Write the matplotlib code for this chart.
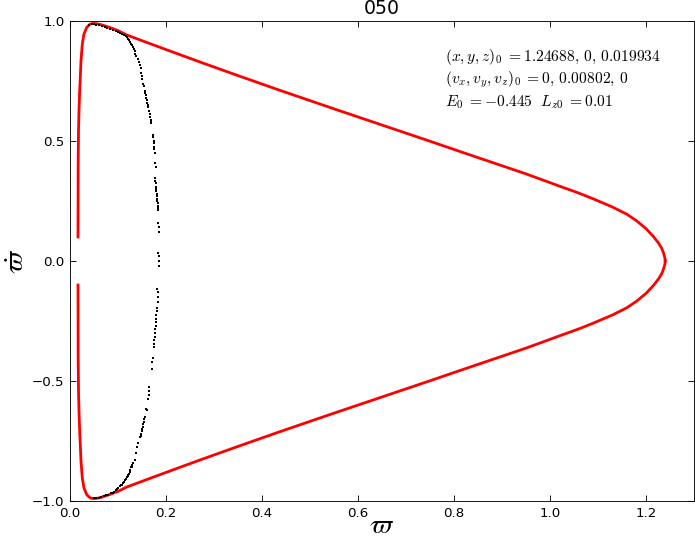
import matplotlib.pyplot as plt

# zero-velocity curve, upper and lower branch
zvc_x = [0.0167, 0.0170, 0.0178, 0.0188, 0.0200, 0.0230, 0.0257, 0.029, 0.035,
         0.042, 0.048, 0.055, 0.0625, 0.08, 0.10, 0.118, 0.15, 0.20, 0.271,
         0.35, 0.4375, 0.55, 0.65, 0.75, 0.854, 0.95, 1.021, 1.06, 1.09,
         1.13, 1.16, 1.18, 1.20, 1.215, 1.226, 1.233, 1.237, 1.2395, 1.240]
zvc_up = [0.10, 0.40, 0.55, 0.63, 0.70, 0.8375, 0.905, 0.945, 0.974,
          0.987, 0.990, 0.989, 0.986, 0.975, 0.960, 0.942, 0.918, 0.881, 0.829,
          0.7725, 0.711, 0.634, 0.5665, 0.499, 0.428, 0.363, 0.311, 0.283, 0.259,
          0.225, 0.195, 0.168, 0.135, 0.103, 0.075, 0.052, 0.030, 0.012, 0.0]
zvc_low = [-0.10, -0.40, -0.55, -0.63, -0.70, -0.8375, -0.905, -0.945, -0.974,
           -0.987, -0.990, -0.989, -0.986, -0.975, -0.960, -0.942, -0.918, -0.881, -0.829,
           -0.7725, -0.711, -0.634, -0.5665, -0.499, -0.428, -0.363, -0.311, -0.283, -0.259,
           -0.225, -0.195, -0.168, -0.135, -0.103, -0.075, -0.052, -0.030, -0.012, -0.0]

# surface of section points (varpi, varpi_dot)
sos_x = [0.040, 0.045, 0.050, 0.055, 0.060, 0.066, 0.072, 0.078, 0.084, 0.090,
         0.095, 0.100, 0.104, 0.108, 0.112, 0.116, 0.119, 0.121, 0.123, 0.125,
         0.127, 0.129, 0.131, 0.133, 0.135, 0.136, 0.138, 0.141, 0.143, 0.145,
         0.147, 0.148, 0.149, 0.150, 0.153, 0.154, 0.156, 0.157, 0.158, 0.159,
         0.160, 0.161, 0.162, 0.163, 0.165, 0.166, 0.167, 0.168, 0.169,
         0.168, 0.172, 0.173, 0.174, 0.175, 0.176, 0.176, 0.177, 0.178, 0.180,
         0.177, 0.178, 0.179, 0.179, 0.180, 0.180, 0.181, 0.181, 0.182, 0.182,
         0.183, 0.183, 0.184, 0.184, 0.184, 0.185, 0.186, 0.184, 0.185, 0.185,
         0.186, 0.182, 0.183, 0.183, 0.184, 0.181, 0.181, 0.180, 0.180, 0.179,
         0.179, 0.178, 0.177, 0.177, 0.176, 0.175, 0.174, 0.172, 0.171, 0.170,
         0.165, 0.165, 0.164, 0.163, 0.158, 0.160, 0.156, 0.155, 0.154, 0.153,
         0.152, 0.151, 0.150, 0.148, 0.147, 0.146, 0.142, 0.139, 0.138, 0.136,
         0.132, 0.130, 0.128, 0.126, 0.124, 0.122, 0.120, 0.118, 0.116, 0.114,
         0.112, 0.110, 0.107, 0.104, 0.101, 0.098, 0.095, 0.092, 0.089,
         0.129, 0.125, 0.121, 0.117, 0.113, 0.109,
         0.085, 0.080, 0.075, 0.070, 0.065, 0.060, 0.055, 0.050]
sos_y = [0.983, 0.986, 0.987, 0.985, 0.983, 0.980, 0.976, 0.972, 0.968, 0.963,
         0.958, 0.953, 0.949, 0.945, 0.940, 0.936, 0.932, 0.926, 0.920, 0.913,
         0.906, 0.899, 0.891, 0.882, 0.873, 0.864, 0.855, 0.840, 0.830, 0.815,
         0.805, 0.785, 0.770, 0.760, 0.738, 0.728, 0.710, 0.700, 0.690, 0.680,
         0.670, 0.660, 0.650, 0.640, 0.625, 0.612, 0.600, 0.580, 0.575,
         0.5875, 0.525, 0.515, 0.500, 0.490, 0.475, 0.465, 0.452, 0.407, 0.393,
         0.345, 0.335, 0.325, 0.310, 0.300, 0.290, 0.280, 0.270, 0.260, 0.250,
         0.240, 0.230, 0.220, 0.212, 0.158, 0.140, 0.120, 0.035, 0.020, 0.0,
         -0.020, -0.115, -0.130, -0.150, -0.170, -0.195, -0.210, -0.225, -0.240, -0.255,
         -0.270, -0.285, -0.300, -0.315, -0.330, -0.345, -0.360, -0.405, -0.420, -0.450,
         -0.525, -0.540, -0.560, -0.575, -0.615, -0.620, -0.650, -0.660, -0.670, -0.680,
         -0.690, -0.700, -0.710, -0.720, -0.730, -0.735, -0.758, -0.773, -0.800, -0.830,
         -0.842, -0.850, -0.860, -0.870, -0.878, -0.886, -0.893, -0.900, -0.907, -0.913,
         -0.920, -0.926, -0.932, -0.939, -0.945, -0.951, -0.956, -0.961, -0.966,
         -0.860, -0.878, -0.895, -0.910, -0.922, -0.932,
         -0.968, -0.973, -0.977, -0.981, -0.984, -0.986, -0.987, -0.987]

plt.rcParams['mathtext.fontset'] = 'cm'
plt.rcParams['font.size'] = 12

fig = plt.figure(figsize=(695 / 80, 539 / 80), dpi=80)
ax = fig.add_axes([70 / 695, 38 / 539, 624 / 695, 480 / 539])

ax.plot(zvc_x, zvc_up, color='red', lw=2.5)
ax.plot(zvc_x, zvc_low, color='red', lw=2.5)
ax.plot(sos_x, sos_y, 's', color='black', ms=2.2, mew=0, zorder=3)

ax.set_xlim(0, 1.3)
ax.set_ylim(-1, 1)
ax.set_xticks([0.0, 0.2, 0.4, 0.6, 0.8, 1.0, 1.2])
ax.set_yticks([-1.0, -0.5, 0.0, 0.5, 1.0])
ax.tick_params(direction='in', top=True, right=True, length=5, labelsize=12, pad=5)

ax.set_title('050', fontsize=17, pad=6.5)
ax.set_xlabel(r'$\varpi$', fontsize=25, labelpad=-8)
ax.set_ylabel(r'$\dot{\varpi}$', fontsize=25, labelpad=2)

ax.text(0.601, 0.925, r'$(x,y,z)_0\;{=}1.24688,\,0,\,0.019934$', transform=ax.transAxes,
        fontsize=14, va='center')
ax.text(0.601, 0.877, r'$(v_x,v_y,v_z)_0\;{=}0,\,0.00802,\,0$', transform=ax.transAxes,
        fontsize=14, va='center')
ax.text(0.601, 0.831, r'$E_0\;{=}{-}0.445\ \ L_{z0}\;{=}0.01$', transform=ax.transAxes,
        fontsize=14, va='center')

fig.savefig('out.png', dpi=80)
